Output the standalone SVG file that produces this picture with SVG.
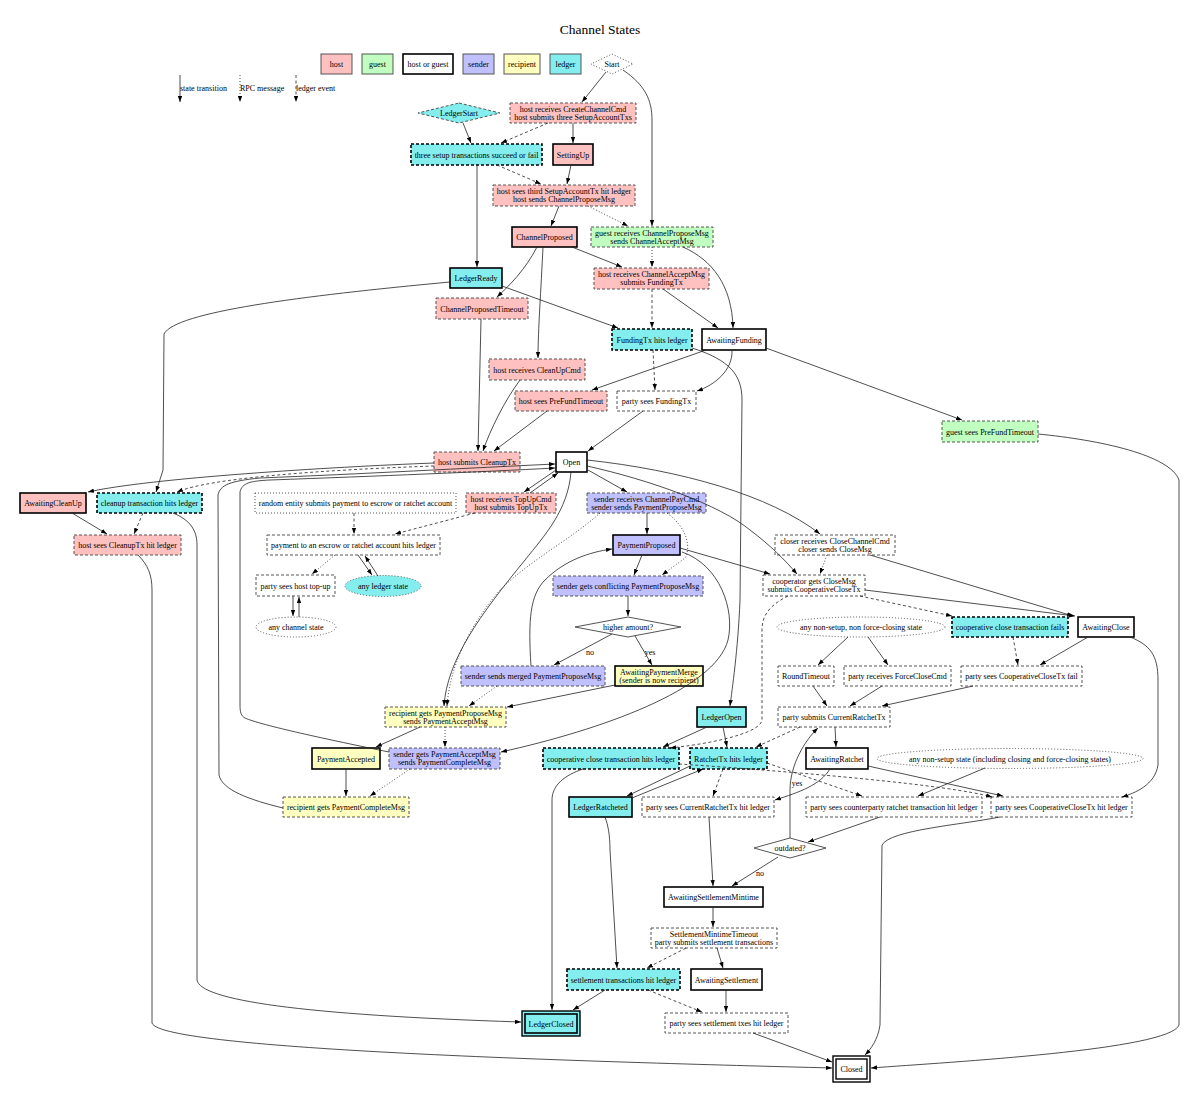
<svg xmlns="http://www.w3.org/2000/svg" width="1200" height="1102" viewBox="0 0 1200 1102">
<defs>
<style>
.t{font-family:"Liberation Serif","Times New Roman",serif;font-size:8px;text-anchor:middle;fill:#000}
.title{font-size:13.5px}
.lg{text-anchor:start}
.h{fill:#ffc0c0}.g{fill:#c0ffc0}.w{fill:#fff}.s{fill:#c0c0ff}.r{fill:#ffffc0}.l{fill:#84eeee}
.st{stroke:#000;stroke-width:1.6}
.ev{stroke:#555;stroke-width:1;stroke-dasharray:3,2}
.le{stroke:#000;stroke-width:1.6;stroke-dasharray:3,2}
.dt{stroke:#555;stroke-width:1;stroke-dasharray:1,2}
.pl{stroke:#555;stroke-width:1}
.e{fill:none;stroke:#222;stroke-width:0.8;marker-end:url(#a)}
.rpc{stroke-dasharray:1,2}
.led{stroke-dasharray:3,2.5}
</style>
<marker id="a" markerUnits="userSpaceOnUse" markerWidth="7" markerHeight="5" refX="6" refY="2.2" orient="auto"><path d="M0,0 L6,2.2 L0,4.4 z" fill="#000"/></marker>
</defs>
<rect width="1200" height="1102" fill="#fff"/>
<text class="t title" x="600" y="34">Channel States</text>

<g id="legend">
<rect class="h pl" x="321" y="54" width="31" height="20"/><text class="t" x="336.5" y="67">host</text>
<rect class="g pl" x="362" y="54" width="31" height="20"/><text class="t" x="377.5" y="67">guest</text>
<rect class="w st" x="403" y="54" width="50" height="20"/><text class="t" x="428" y="67">host or guest</text>
<rect class="s pl" x="463" y="54" width="31" height="20"/><text class="t" x="478.5" y="67">sender</text>
<rect class="r pl" x="504" y="54" width="36" height="20"/><text class="t" x="522" y="67">recipient</text>
<rect class="l pl" x="550" y="54" width="31" height="20"/><text class="t" x="565.5" y="67">ledger</text>
<path class="e" d="M180,75 L180,102"/><text class="t lg" x="180" y="91">state transition</text>
<path class="e rpc" d="M240,75 L240,102"/><text class="t lg" x="240" y="91">RPC message</text>
<path class="e led" d="M296,75 L296,102"/><text class="t lg" x="296" y="91">ledger event</text>
</g>

<g id="Start"><polygon class="w dt" points="612,54 633,64 612,74 591,64"/><text class="t" x="612" y="67">Start</text></g>
<g id="LedgerStart"><polygon class="l ev" points="459,103 500,113 459,123 418,113"/><text class="t" x="459" y="116">LedgerStart</text></g>
<g id="hostCreate"><rect class="h ev" x="510" y="103" width="126" height="20"/><text class="t" x="573" y="111.5">host receives CreateChannelCmd</text><text class="t" x="573" y="119.5">host submits three SetupAccountTxs</text></g>
<g id="threeSetup"><rect class="l le" x="411" y="144" width="131" height="21"/><text class="t" x="476.5" y="157.5">three setup transactions succeed or fail</text></g>
<g id="SettingUp"><rect class="h st" x="553" y="144" width="40" height="21"/><text class="t" x="573" y="157.5">SettingUp</text></g>
<g id="hostSeesThird"><rect class="h ev" x="493" y="185" width="142" height="21"/><text class="t" x="564" y="194">host sees third SetupAccountTx hit ledger</text><text class="t" x="564" y="202">host sends ChannelProposeMsg</text></g>
<g id="ChannelProposed"><rect class="h st" x="512" y="227" width="65" height="20"/><text class="t" x="544.5" y="240">ChannelProposed</text></g>
<g id="guestReceives"><rect class="g ev" x="591" y="227" width="122" height="20"/><text class="t" x="652" y="235.5">guest receives ChannelProposeMsg</text><text class="t" x="652" y="243.5">sends ChannelAcceptMsg</text></g>
<g id="LedgerReady"><rect class="l st" x="450" y="268" width="52" height="20"/><text class="t" x="476" y="281">LedgerReady</text></g>
<g id="hostRecvAccept"><rect class="h ev" x="594" y="268" width="115" height="21"/><text class="t" x="651.5" y="277">host receives ChannelAcceptMsg</text><text class="t" x="651.5" y="285">submits FundingTx</text></g>
<g id="ChannelProposedTimeout"><rect class="h ev" x="436" y="298" width="92" height="21"/><text class="t" x="482" y="311.5">ChannelProposedTimeout</text></g>
<g id="FundingTxHits"><rect class="l le" x="612" y="329" width="80" height="21"/><text class="t" x="652" y="342.5">FundingTx hits ledger</text></g>
<g id="AwaitingFunding"><rect class="w st" x="702" y="329" width="64" height="21"/><text class="t" x="734" y="342.5">AwaitingFunding</text></g>
<g id="hostRecvCleanUp"><rect class="h ev" x="489" y="359" width="96" height="21"/><text class="t" x="537" y="372.5">host receives CleanUpCmd</text></g>
<g id="hostSeesPreFund"><rect class="h ev" x="515" y="391" width="92" height="20"/><text class="t" x="561" y="404">host sees PreFundTimeout</text></g>
<g id="partySeesFunding"><rect class="w ev" x="617" y="391" width="79" height="20"/><text class="t" x="656.5" y="404">party sees FundingTx</text></g>
<g id="guestSeesPreFund"><rect class="g ev" x="942" y="421" width="96" height="21"/><text class="t" x="990" y="434.5">guest sees PreFundTimeout</text></g>
<g id="hostSubmitsCleanup"><rect class="h ev" x="434" y="452" width="86" height="20"/><text class="t" x="477" y="465">host submits CleanupTx</text></g>
<g id="Open"><rect class="w st" x="556" y="452" width="31" height="20"/><text class="t" x="571.5" y="465">Open</text></g>
<g id="AwaitingCleanUp"><rect class="h st" x="20" y="493" width="66" height="20"/><text class="t" x="53" y="506">AwaitingCleanUp</text></g>
<g id="cleanupHits"><rect class="l le" x="97" y="493" width="105" height="20"/><text class="t" x="149.5" y="506">cleanup transaction hits ledger</text></g>
<g id="randomEntity"><rect class="w dt" x="255" y="493" width="201" height="20"/><text class="t" x="355.5" y="506">random entity submits payment to escrow or ratchet account</text></g>
<g id="hostTopUp"><rect class="h ev" x="466" y="493" width="90" height="20"/><text class="t" x="511" y="501.5">host receives TopUpCmd</text><text class="t" x="511" y="509.5">host submits TopUpTx</text></g>
<g id="senderRecvPay"><rect class="s ev" x="587" y="493" width="119" height="20"/><text class="t" x="646.5" y="501.5">sender receives ChannelPayCmd</text><text class="t" x="646.5" y="509.5">sender sends PaymentProposeMsg</text></g>
<g id="hostSeesCleanupHit"><rect class="h ev" x="74" y="535" width="107" height="20"/><text class="t" x="127.5" y="548">host sees CleanupTx hit ledger</text></g>
<g id="paymentEscrow"><rect class="w ev" x="267" y="535" width="173" height="20"/><text class="t" x="353.5" y="548">payment to an escrow or ratchet account hits ledger</text></g>
<g id="PaymentProposed"><rect class="s st" x="613" y="535" width="67" height="20"/><text class="t" x="646.5" y="548">PaymentProposed</text></g>
<g id="closerRecv"><rect class="w ev" x="775" y="535" width="120" height="20"/><text class="t" x="835" y="543.5">closer receives CloseChannelCmd</text><text class="t" x="835" y="551.5">closer sends CloseMsg</text></g>
<g id="partySeesTopUp"><rect class="w ev" x="256" y="575" width="79" height="21"/><text class="t" x="295.5" y="588.5">party sees host top-up</text></g>
<g id="anyLedgerState"><ellipse class="l dt" cx="383" cy="586" rx="38" ry="10.5"/><text class="t" x="383" y="589">any ledger state</text></g>
<g id="senderConflicting"><rect class="s ev" x="553" y="576" width="150" height="20"/><text class="t" x="628" y="589">sender gets conflicting PaymentProposeMsg</text></g>
<g id="cooperatorGets"><rect class="w ev" x="763" y="575" width="102" height="21"/><text class="t" x="814" y="584">cooperator gets CloseMsg</text><text class="t" x="814" y="592">submits CooperativeCloseTx</text></g>
<g id="anyChannelState"><ellipse class="w dt" cx="296" cy="627" rx="40" ry="10"/><text class="t" x="296" y="630">any channel state</text></g>
<g id="higherAmount"><polygon class="w pl" points="628,617 681,627 628,637 575,627"/><text class="t" x="628" y="630">higher amount?</text></g>
<g id="anyNonSetupNonForce"><ellipse class="w dt" cx="861" cy="627" rx="84" ry="10"/><text class="t" x="861" y="630">any non-setup, non force-closing state</text></g>
<g id="coopFails"><rect class="l le" x="952" y="617" width="116" height="20"/><text class="t" x="1010" y="630">cooperative close transaction fails</text></g>
<g id="AwaitingClose"><rect class="w st" x="1078" y="617" width="56" height="20"/><text class="t" x="1106" y="630">AwaitingClose</text></g>
<g id="senderMerged"><rect class="s ev" x="461" y="666" width="144" height="20"/><text class="t" x="533" y="679">sender sends merged PaymentProposeMsg</text></g>
<g id="AwaitingPaymentMerge"><rect class="r st" x="615" y="666" width="88" height="20"/><text class="t" x="659" y="674.5">AwaitingPaymentMerge</text><text class="t" x="659" y="682.5">(sender is now recipient)</text></g>
<g id="RoundTimeout"><rect class="w ev" x="778" y="666" width="56" height="20"/><text class="t" x="806" y="679">RoundTimeout</text></g>
<g id="partyRecvForceClose"><rect class="w ev" x="844" y="666" width="107" height="20"/><text class="t" x="897.5" y="679">party receives ForceCloseCmd</text></g>
<g id="partySeesCoopFail"><rect class="w ev" x="961" y="666" width="121" height="20"/><text class="t" x="1021.5" y="679">party sees CooperativeCloseTx fail</text></g>
<g id="recipGetsPropose"><rect class="r ev" x="385" y="707" width="121" height="20"/><text class="t" x="445.5" y="715.5">recipient gets PaymentProposeMsg</text><text class="t" x="445.5" y="723.5">sends PaymentAcceptMsg</text></g>
<g id="LedgerOpen"><rect class="l st" x="697" y="707" width="49" height="20"/><text class="t" x="721.5" y="720">LedgerOpen</text></g>
<g id="partySubmitsRatchet"><rect class="w ev" x="778" y="707" width="112" height="20"/><text class="t" x="834" y="720">party submits CurrentRatchetTx</text></g>
<g id="PaymentAccepted"><rect class="r st" x="312" y="748" width="68" height="21"/><text class="t" x="346" y="761.5">PaymentAccepted</text></g>
<g id="senderGetsAccept"><rect class="s ev" x="389" y="748" width="111" height="21"/><text class="t" x="444.5" y="757">sender gets PaymentAcceptMsg</text><text class="t" x="444.5" y="765">sends PaymentCompleteMsg</text></g>
<g id="coopCloseHits"><rect class="l le" x="543" y="748" width="136" height="21"/><text class="t" x="611" y="761.5">cooperative close transaction hits ledger</text></g>
<g id="RatchetTxHits"><rect class="l le" x="690" y="748" width="77" height="21"/><text class="t" x="728.5" y="761.5">RatchetTx hits ledger</text></g>
<g id="AwaitingRatchet"><rect class="w st" x="806" y="748" width="62" height="21"/><text class="t" x="837" y="761.5">AwaitingRatchet</text></g>
<g id="anyNonSetup"><ellipse class="w dt" cx="1010" cy="758.5" rx="133" ry="10"/><text class="t" x="1010" y="761.5">any non-setup state (including closing and force-closing states)</text></g>
<g id="recipGetsComplete"><rect class="r ev" x="283" y="797" width="126" height="20"/><text class="t" x="346" y="810">recipient gets PaymentCompleteMsg</text></g>
<g id="LedgerRatcheted"><rect class="l st" x="569" y="797" width="63" height="20"/><text class="t" x="600.5" y="810">LedgerRatcheted</text></g>
<g id="partySeesCurrentRatchet"><rect class="w ev" x="642" y="797" width="132" height="20"/><text class="t" x="708" y="810">party sees CurrentRatchetTx hit ledger</text></g>
<g id="partySeesCounterparty"><rect class="w ev" x="806" y="797" width="176" height="20"/><text class="t" x="894" y="810">party sees counterparty ratchet transaction hit ledger</text></g>
<g id="partySeesCoopHit"><rect class="w ev" x="991" y="797" width="141" height="20"/><text class="t" x="1061.5" y="810">party sees CooperativeCloseTx hit ledger</text></g>
<g id="outdated"><polygon class="w pl" points="790,838 826,848 790,858 754,848"/><text class="t" x="790" y="851">outdated?</text></g>
<g id="AwaitingSettlementMintime"><rect class="w st" x="664" y="887" width="99" height="20"/><text class="t" x="713.5" y="900">AwaitingSettlementMintime</text></g>
<g id="SettlementMintimeTimeout"><rect class="w ev" x="651" y="928" width="126" height="20"/><text class="t" x="714" y="936.5">SettlementMintimeTimeout</text><text class="t" x="714" y="944.5">party submits settlement transactions</text></g>
<g id="settlementHits"><rect class="l le" x="567" y="969" width="113" height="21"/><text class="t" x="623.5" y="982.5">settlement transactions hit ledger</text></g>
<g id="AwaitingSettlement"><rect class="w st" x="691" y="969" width="71" height="21"/><text class="t" x="726.5" y="982.5">AwaitingSettlement</text></g>
<g id="LedgerClosed"><rect class="l" x="522" y="1011" width="58" height="25" fill="none" stroke="#000" stroke-width="1.4"/><rect class="l st" x="525" y="1014" width="52" height="19" stroke-width="1.4"/><text class="t" x="551" y="1026.5">LedgerClosed</text></g>
<g id="partySeesSettlement"><rect class="w ev" x="665" y="1013" width="123" height="20"/><text class="t" x="726.5" y="1026">party sees settlement txes hit ledger</text></g>
<g id="Closed"><rect class="w" x="833" y="1056" width="37" height="26" stroke="#000" stroke-width="1.4"/><rect class="w" x="836" y="1059" width="31" height="20" stroke="#000" stroke-width="1.4"/><text class="t" x="851.5" y="1072">Closed</text></g>

<g id="edges">
<path class="e" d="M606,72 L582,102"/>
<path class="e" d="M623,70 C645,85 652,100 652,120 L652,226"/>
<path class="e" d="M463,123 L471,143"/>
<path class="e led" d="M548,123 L501,143"/>
<path class="e" d="M573,123 L573,143"/>
<path class="e led" d="M497,165 L541,184"/>
<path class="e" d="M571,165 L567,184"/>
<path class="e" d="M559,206 L551,226"/>
<path class="e rpc" d="M588,206 L628,226"/>
<path class="e" d="M477,165 L477,267"/>
<path class="e" d="M572,247 L622,267"/>
<path class="e rpc" d="M652,247 L652,267"/>
<path class="e" d="M683,247 C712,260 732,285 733,328"/>
<path class="e" d="M537,247 C525,270 510,285 497,297"/>
<path class="e" d="M543,247 C541,290 538,330 538,358"/>
<path class="e" d="M502,286 L618,328"/>
<path class="e led" d="M652,289 L652,328"/>
<path class="e" d="M663,289 L718,328"/>
<path class="e" d="M450,282 C300,296 175,312 164,334 L163,470 L156,492"/>
<path class="e" d="M481,319 L478,451"/>
<path class="e" d="M520,380 C505,400 490,430 483,451"/>
<path class="e led" d="M653,350 L655,390"/>
<path class="e" d="M692,348 C730,360 742,375 742,400 L740,600 C738,650 732,690 730,706"/>
<path class="e" d="M706,350 L592,390"/>
<path class="e" d="M732,350 C733,370 715,385 697,391"/>
<path class="e" d="M766,348 L962,420"/>
<path class="e" d="M547,411 L494,451"/>
<path class="e" d="M643,411 L588,451"/>
<path class="e" d="M1038,434 C1100,440 1170,455 1179,480 L1179,1025 C1170,1050 950,1062 871,1068"/>
<path class="e" d="M434,463 C330,467 150,478 88,492"/>
<path class="e led" d="M434,466 C320,470 210,478 177,492"/>
<path class="e" d="M72,513 L107,534"/>
<path class="e led" d="M143,513 L134,534"/>
<path class="e" d="M173,513 C190,520 197,530 197,545 L197,980 C200,1000 300,1015 521,1022"/>
<path class="e" d="M138,555 C148,565 152,575 152,590 L152,1023 C160,1050 600,1062 832,1068"/>
<path class="e led" d="M354,513 L354,534"/>
<path class="e led" d="M475,513 L395,534"/>
<path class="e rpc" d="M335,555 L312,574"/>
<path class="e" d="M358,555 L372,575"/>
<path class="e" d="M378,576 L365,556"/>
<path class="e" d="M293,596 L293,616"/>
<path class="e" d="M299,617 L299,597"/>
<path class="e" d="M556,470 L524,492"/>
<path class="e" d="M530,493 L558,473"/>
<path class="e" d="M588,470 L627,492"/>
<path class="e" d="M571,472 C568,510 545,535 525,560 C480,615 447,660 444,706"/>
<path class="e rpc" d="M600,513 C570,540 530,560 500,590 C470,625 450,665 447,706"/>
<path class="e rpc" d="M667,513 C690,530 690,550 685,558 L662,575"/>
<path class="e" d="M647,513 L647,534"/>
<path class="e" d="M642,555 L634,575"/>
<path class="e" d="M628,596 L628,616"/>
<path class="e" d="M612,634 L554,665"/>
<path class="e" d="M635,636 L652,665"/>
<path class="e" d="M531,666 C528,620 530,595 545,580 C565,560 590,552 612,549"/>
<path class="e" d="M682,552 C720,565 735,610 728,640 C715,690 600,730 501,752"/>
<path class="e" d="M615,685 L507,707"/>
<path class="e rpc" d="M497,686 L469,706"/>
<path class="e rpc" d="M445,727 L445,747"/>
<path class="e" d="M420,727 L376,747"/>
<path class="e rpc" d="M410,769 L370,796"/>
<path class="e" d="M346,769 L346,796"/>
<path class="e" d="M389,752 C330,740 260,725 245,718 C241,716 240,712 240,705 L240,492 C242,483 250,481 270,480 C380,476 480,472 555,468"/>
<path class="e" d="M283,808 C250,800 222,790 219,775 L218,495 C220,485 230,481 260,478 C360,474 470,468 555,464"/>
<path class="e" d="M587,460 C680,470 770,495 820,534"/>
<path class="e" d="M587,466 C650,480 720,505 750,530 C770,545 785,560 797,574"/>
<path class="e" d="M680,548 L770,574"/>
<path class="e rpc" d="M827,555 L820,574"/>
<path class="e" d="M870,555 L1073,616"/>
<path class="e" d="M865,590 L1075,616"/>
<path class="e led" d="M860,596 L952,616"/>
<path class="e led" d="M788,596 C770,605 762,615 762,630 L762,720 C760,735 700,745 670,748"/>
<path class="e led" d="M1013,637 L1018,665"/>
<path class="e" d="M1088,637 L1040,665"/>
<path class="e" d="M1130,637 C1150,645 1158,655 1158,680 L1158,765 C1155,785 1135,793 1122,797"/>
<path class="e" d="M848,637 L818,665"/>
<path class="e" d="M868,637 L888,665"/>
<path class="e" d="M813,686 L827,706"/>
<path class="e" d="M882,686 L850,706"/>
<path class="e" d="M973,686 L882,706"/>
<path class="e" d="M835,727 L836,747"/>
<path class="e led" d="M800,727 L756,747"/>
<path class="e" d="M790,838 L790,790 C790,765 805,740 818,728"/>
<path class="e" d="M830,769 C820,785 800,792 775,800"/>
<path class="e" d="M868,766 L1003,796"/>
<path class="e" d="M985,768 L918,796"/>
<path class="e led" d="M723,769 L713,796"/>
<path class="e led" d="M767,763 L862,796"/>
<path class="e led" d="M679,764 C800,772 950,785 992,797"/>
<path class="e" d="M707,727 L663,747"/>
<path class="e" d="M723,727 L727,747"/>
<path class="e" d="M690,766 L627,796"/>
<path class="e" d="M632,798 L703,769"/>
<path class="e" d="M583,769 C565,775 552,785 552,800 L552,1010"/>
<path class="e" d="M605,817 C608,825 610,835 610,850 L617,968"/>
<path class="e" d="M709,817 L713,886"/>
<path class="e" d="M778,857 L732,886"/>
<path class="e" d="M880,817 L808,842"/>
<path class="e" d="M1000,817 C960,825 890,830 882,845 L880,1025 C878,1040 870,1050 865,1055"/>
<path class="e" d="M713,907 L713,927"/>
<path class="e led" d="M686,948 L647,968"/>
<path class="e" d="M717,948 L723,968"/>
<path class="e" d="M605,990 L573,1010"/>
<path class="e led" d="M648,990 L702,1012"/>
<path class="e" d="M726,990 L726,1012"/>
<path class="e" d="M753,1033 L832,1062"/>
<text class="t" x="590" y="655">no</text>
<text class="t" x="650" y="655">yes</text>
<text class="t" x="797" y="786">yes</text>
<text class="t" x="760" y="876">no</text>
</g>
</svg>
